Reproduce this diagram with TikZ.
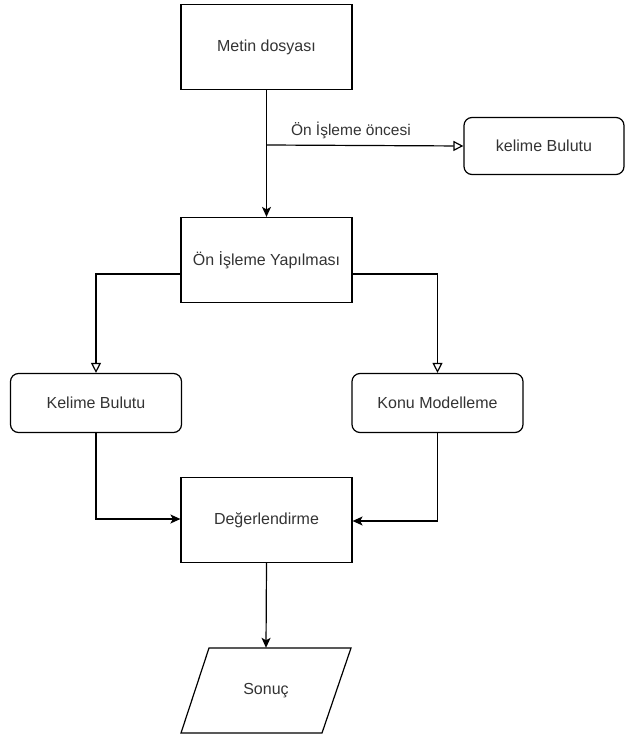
\documentclass[tikz,border=0pt]{standalone}
\usepackage{fontspec}
\setmainfont{Liberation Sans}
\usetikzlibrary{arrows.meta}
\definecolor{txt}{HTML}{333333}
\begin{document}
\begin{tikzpicture}[x=1pt,y=-1pt,
  every node/.style={font=\fontsize{16}{19}\selectfont, text=txt},
  sqbox/.style={draw, line width=1.2pt, minimum width=171pt, minimum height=85pt, inner sep=0pt},
  rbox/.style={draw, line width=1.2pt, rounded corners=8pt, minimum width=171pt, minimum height=59pt, inner sep=0pt},
  solidarr/.style={line width=1.2pt, -{Stealth[length=10pt,width=9pt,inset=2.5pt]}},
  openarr/.style={line width=1.2pt, -{Triangle[open,length=10pt,width=10pt]}}]
\useasboundingbox (0,0) rectangle (625,738);
\node[sqbox] (metin) at (266.5,47) {Metin dosyası};
\node[sqbox] (onis) at (266.5,260) {Ön İşleme Yapılması};
\node[rbox, minimum width=160pt, minimum height=57pt] (kb1) at (544,146) {kelime Bulutu};
\node[rbox] (kb2) at (96,403) {Kelime Bulutu};
\node[rbox] (konu) at (437.5,403) {Konu Modelleme};
\node[sqbox] (deg) at (266.5,520) {Değerlendirme};
\node[minimum width=141pt, minimum height=85pt, inner sep=0pt] (son) at (266,690.5) {Sonuç};
\draw[line width=1.2pt] (209,648) -- (351,648) -- (322,733) -- (181,733) -- cycle;
\coordinate (br) at (266,145);
\draw[solidarr] (metin.south) -- (onis.north);
\draw[openarr] (br) -- node[pos=0.43, above=3pt, font=\fontsize{15.5}{18}\selectfont] {Ön İşleme öncesi} (kb1.west);
\draw[openarr] (onis.west |- 0,274) -| (kb2.north);
\draw[openarr] (onis.east |- 0,274) -| (konu.north);
\draw[solidarr] (kb2.south) |- (deg.west |- 0,519);
\draw[solidarr] (konu.south) |- (deg.east |- 0,521);
\draw[solidarr] (deg.south) -- (son.north);
\end{tikzpicture}
\end{document}
